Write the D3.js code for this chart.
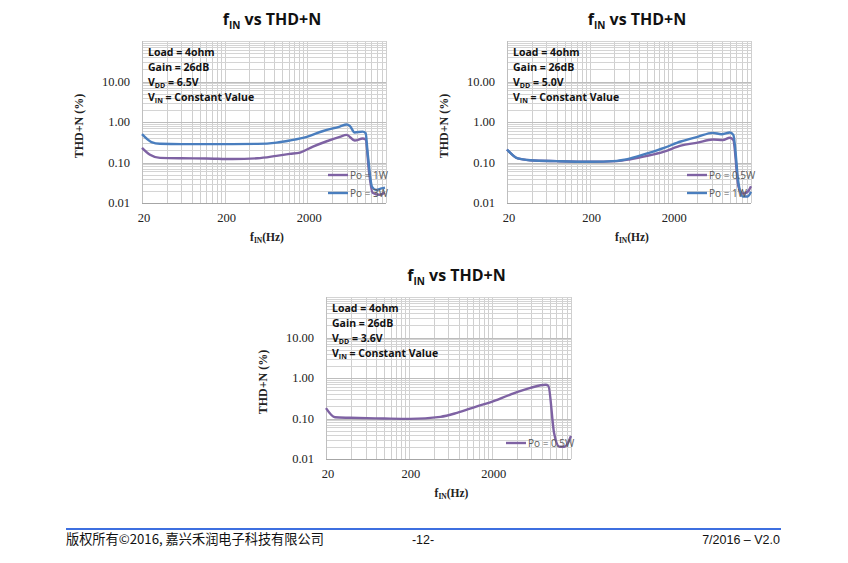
<!DOCTYPE html>
<html>
<head>
<meta charset="utf-8">
<script src="https://cdn.jsdelivr.net/npm/d3@7"></script>
<style>
  body { margin: 0; background: #fff; }
  svg { display: block; }
</style>
</head>
<body>
<div id="chart"></div>
<script>
// tick labels
const xTicks = [20, 200, 2000];
const yTicks = [0.01, 0.1, 1, 10];
const yTickLabels = ["0.01", "0.10", "1.00", "10.00"];

// chart 1 : VDD = 6.5V
const f65_1W = [20, 25, 33, 60, 120, 250, 500, 850, 1230, 1640, 2350, 3390, 4970, 6000, 7500, 9400, 10200, 11200, 12400, 15000, 17500];
const thd65_1W = [0.23, 0.155, 0.13, 0.127, 0.126, 0.122, 0.127, 0.146, 0.163, 0.176, 0.247, 0.33, 0.43, 0.48, 0.35, 0.39, 0.37, 0.06, 0.018, 0.016, 0.018];
const f65_3W = [20, 26, 33, 60, 120, 250, 500, 850, 1230, 1980, 3130, 4970, 6000, 6600, 7500, 9400, 10200, 10800, 12200, 13700, 15900, 17500];
const thd65_3W = [0.5, 0.32, 0.29, 0.285, 0.285, 0.285, 0.288, 0.31, 0.35, 0.43, 0.6, 0.77, 0.87, 0.79, 0.55, 0.58, 0.53, 0.17, 0.025, 0.021, 0.023, 0.024];

// chart 2 : VDD = 5.0V
const f50_05W = [20, 27, 38, 80, 203, 430, 624, 998, 1595, 2540, 4060, 6200, 8200, 10000, 11000, 12700, 14350, 16400, 18000];
const thd50_05W = [0.21, 0.126, 0.114, 0.108, 0.104, 0.108, 0.12, 0.146, 0.186, 0.26, 0.31, 0.37, 0.36, 0.41, 0.36, 0.025, 0.017, 0.019, 0.026];
const f50_1W = [20, 27, 38, 80, 203, 430, 624, 998, 1595, 2540, 4060, 6200, 7900, 10000, 11000, 12700, 14350, 16400, 18000];
const thd50_1W = [0.21, 0.126, 0.114, 0.108, 0.104, 0.11, 0.126, 0.168, 0.23, 0.33, 0.43, 0.54, 0.5, 0.55, 0.48, 0.031, 0.0145, 0.0145, 0.019];

// chart 3 : VDD = 3.6V
const f36_05W = [20, 25.7, 39, 100, 206, 480, 760, 1320, 1910, 3340, 5830, 8890, 9600, 11250, 13100, 15000, 18000];
const thd36_05W = [0.18, 0.107, 0.104, 0.1, 0.098, 0.11, 0.138, 0.2, 0.25, 0.39, 0.57, 0.68, 0.64, 0.044, 0.02, 0.02, 0.037];

const purple = "#7e62a3";
const blue = "#4a7ebe";

const charts = [
  {left: 142, top: 41, width: 244, height: 162, vdd: "6.5V",
   legendX: 186, legendY: 134,
   series: [
     {name: "Po = 1W", f: f65_1W, v: thd65_1W, color: purple},
     {name: "Po = 3W", f: f65_3W, v: thd65_3W, color: blue}
   ]},
  {left: 507, top: 41, width: 244, height: 162, vdd: "5.0V",
   legendX: 180, legendY: 134,
   series: [
     {name: "Po = 0.5W", f: f50_05W, v: thd50_05W, color: purple},
     {name: "Po = 1W", f: f50_1W, v: thd50_1W, color: blue}
   ]},
  {left: 326, top: 297, width: 245, height: 162, vdd: "3.6V",
   legendX: 180, legendY: 146,
   series: [
     {name: "Po = 0.5W", f: f36_05W, v: thd36_05W, color: purple}
   ]}
];

const svg = d3.select("#chart").append("svg")
  .attr("width", 848)
  .attr("height", 563);

// minor grid values (Excel style log axis starting at 20)
const xGrid = [];
xTicks.forEach(d => { for (let k = 1; k <= 9; k++) xGrid.push(d * k); });
xGrid.push(18000);
const yGrid = [];
yTicks.forEach(d => { for (let k = 1; k <= 9; k++) yGrid.push(d * k); });
yGrid.push(100);

charts.forEach((c, i) => {
  const g = svg.append("g").attr("transform", `translate(${c.left},${c.top})`);

  const x = d3.scaleLog().domain([20, 18000]).range([0, c.width]);
  const y = d3.scaleLog().domain([0.01, 100]).range([c.height, 0]);

  // gridlines
  g.append("g").selectAll("line")
    .data(xGrid.filter(d => d <= 18000))
    .join("line")
    .attr("x1", d => Math.round(x(d)) + 0.5).attr("x2", d => Math.round(x(d)) + 0.5)
    .attr("y1", 0).attr("y2", c.height)
    .attr("stroke", "#cfcfcf").attr("stroke-width", 1);

  g.append("g").selectAll("line")
    .data(yGrid)
    .join("line")
    .attr("y1", d => Math.round(y(d)) + 0.5).attr("y2", d => Math.round(y(d)) + 0.5)
    .attr("x1", 0).attr("x2", c.width)
    .attr("stroke", d => yTicks.includes(d) ? "#bdbdbd" : "#d4d4d4")
    .attr("stroke-width", 1);

  // axis lines
  g.append("line")
    .attr("x1", 0).attr("x2", c.width)
    .attr("y1", c.height + 0.5).attr("y2", c.height + 0.5)
    .attr("stroke", "#a6a6a6");
  g.append("line")
    .attr("x1", 0.5).attr("x2", 0.5)
    .attr("y1", 0).attr("y2", c.height)
    .attr("stroke", "#bfbfbf");

  // y tick labels
  g.append("g").selectAll("text")
    .data(yTicks)
    .join("text")
    .attr("x", -12)
    .attr("y", d => y(d))
    .attr("dy", "0.35em")
    .attr("text-anchor", "end")
    .attr("font-family", "Liberation Serif, serif")
    .attr("font-size", 12.5)
    .attr("fill", "#222")
    .text((d, j) => yTickLabels[j]);

  // x tick labels
  g.append("g").selectAll("text")
    .data(xTicks)
    .join("text")
    .attr("x", d => x(d) + 2)
    .attr("y", c.height + 15)
    .attr("dy", "0.35em")
    .attr("text-anchor", "middle")
    .attr("font-family", "Liberation Serif, serif")
    .attr("font-size", 12.5)
    .attr("fill", "#222")
    .text(d => d);

  // y title
  g.append("text")
    .attr("transform", `translate(-59,${c.height / 2 + 4}) rotate(-90)`)
    .attr("text-anchor", "middle")
    .attr("font-family", "Liberation Serif, serif")
    .attr("font-weight", "bold")
    .attr("font-size", 12)
    .attr("fill", "#222")
    .text("THD+N (%)");

  // x title
  const xt = g.append("text")
    .attr("x", c.width / 2 + 3)
    .attr("y", c.height + 38)
    .attr("text-anchor", "middle")
    .attr("font-family", "Liberation Serif, serif")
    .attr("font-weight", "bold")
    .attr("font-size", 11.5)
    .attr("fill", "#222");
  xt.append("tspan").text("f");
  xt.append("tspan").attr("font-size", 7.5).attr("dy", 2).text("IN");
  xt.append("tspan").attr("dy", -2).text("(Hz)");

  // chart title
  const tt = g.append("text")
    .attr("x", c.width / 2 + 8)
    .attr("y", -16)
    .attr("text-anchor", "middle")
    .attr("font-family", "Open Sans, sans-serif")
    .attr("font-weight", "bold")
    .attr("font-size", 16)
    .attr("fill", "#111");
  tt.append("tspan").text("f");
  tt.append("tspan").attr("font-size", 10).attr("dy", 4).text("IN");
  tt.append("tspan").attr("dy", -4).text(" vs THD+N");

  // condition notes
  const notes = g.append("g")
    .attr("font-family", "Open Sans, sans-serif")
    .attr("font-weight", "bold")
    .attr("font-size", 10.5)
    .attr("fill", "#111");
  notes.append("text").attr("x", 6).attr("y", 15).text("Load = 4ohm");
  notes.append("text").attr("x", 6).attr("y", 30).text("Gain = 26dB");
  const vdd = notes.append("text").attr("x", 6).attr("y", 45);
  vdd.append("tspan").text("V");
  vdd.append("tspan").attr("font-size", 7).attr("dy", 2).text("DD");
  vdd.append("tspan").attr("dy", -2).text(" = " + c.vdd);
  const vin = notes.append("text").attr("x", 6).attr("y", 60);
  vin.append("tspan").text("V");
  vin.append("tspan").attr("font-size", 7).attr("dy", 2).text("IN");
  vin.append("tspan").attr("dy", -2).text(" = Constant Value");

  // curves
  const line = d3.line()
    .x(d => x(d[0]))
    .y(d => y(d[1]))
    .curve(d3.curveMonotoneX);

  g.append("g").selectAll("path")
    .data(c.series)
    .join("path")
    .attr("d", s => line(s.f.map((f, j) => [f, s.v[j]])))
    .attr("fill", "none")
    .attr("stroke", s => s.color)
    .attr("stroke-width", 2.4)
    .attr("stroke-linejoin", "round");

  // legend
  const lg = g.append("g").attr("transform", `translate(${c.legendX},${c.legendY})`);
  c.series.forEach((s, j) => {
    lg.append("line")
      .attr("x1", 0).attr("x2", 20)
      .attr("y1", j * 18).attr("y2", j * 18)
      .attr("stroke", s.color).attr("stroke-width", 2.4);
    lg.append("text")
      .attr("x", 22).attr("y", j * 18)
      .attr("dy", "0.35em")
      .attr("font-family", "Open Sans, sans-serif")
      .attr("font-size", 10)
      .attr("fill", "#595959")
      .text(s.name);
  });
});

// footer
svg.append("line")
  .attr("x1", 66).attr("x2", 781)
  .attr("y1", 529).attr("y2", 529)
  .attr("stroke", "#3d6fe0").attr("stroke-width", 2);

const footer = svg.append("g")
  .attr("font-family", "Liberation Sans, Noto Sans CJK SC, sans-serif")
  .attr("font-size", 12.5)
  .attr("fill", "#111");
footer.append("text").attr("x", 66).attr("y", 544)
  .attr("font-family", "Noto Sans CJK SC, Liberation Sans, sans-serif")
  .attr("font-size", 13.2)
  .text("版权所有©2016, 嘉兴禾润电子科技有限公司");
footer.append("text").attr("x", 423).attr("y", 544).attr("text-anchor", "middle").text("-12-");
footer.append("text").attr("x", 780).attr("y", 544).attr("text-anchor", "end").text("7/2016 – V2.0");
</script>
</body>
</html>
